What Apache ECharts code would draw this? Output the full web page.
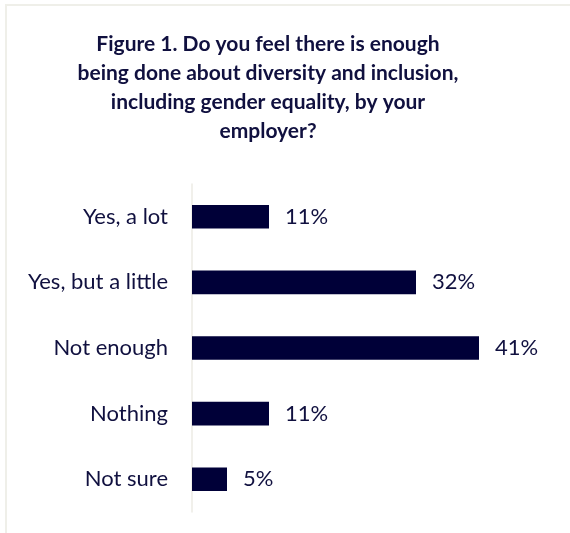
<!DOCTYPE html>
<html>
<head>
<meta charset="utf-8">
<style>
  html, body { margin: 0; padding: 0; background: #ffffff; }
  #chart { width: 570px; height: 533px; }
</style>
<script src="https://cdn.jsdelivr.net/npm/echarts@6/dist/echarts.min.js"></script>
</head>
<body>
<div id="chart"></div>
<script>
// Survey answers, top to bottom
const categories = ['Yes, a lot', 'Yes, but a little', 'Not enough', 'Nothing', 'Not sure'];
// Share of respondents (%)
const values = [11, 32, 41, 11, 5];

const titleText = 'Figure 1. Do you feel there is enough\nbeing done about diversity and inclusion,\nincluding gender equality, by your\nemployer?';

const navy = '#000038';
const textColor = '#10103f';
const fontFamily = 'Lato, "Open Sans", sans-serif';

const chart = echarts.init(document.getElementById('chart'), null, { renderer: 'canvas' });

chart.setOption({
  animation: false,
  backgroundColor: '#ffffff',
  graphic: [{
    type: 'rect',
    shape: { x: 6, y: 5, width: 700, height: 700 },
    style: { fill: 'none', stroke: '#efefe9', lineWidth: 2 },
    silent: true
  }],
  title: {
    text: titleText,
    left: 263,
    top: 25,
    textAlign: 'center',
    textStyle: {
      fontFamily: fontFamily,
      fontSize: 21,
      fontWeight: 'bold',
      color: textColor,
      lineHeight: 29
    }
  },
  grid: {
    left: 192,
    width: 350,
    top: 184,
    height: 328,
    containLabel: false
  },
  xAxis: {
    type: 'value',
    min: 0,
    max: 50,
    show: false
  },
  yAxis: {
    type: 'category',
    data: categories,
    inverse: true,
    axisLine: { show: true, lineStyle: { color: '#ecebe5', width: 1.5 } },
    axisTick: { show: false },
    splitLine: { show: false },
    axisLabel: {
      margin: 24,
      fontFamily: fontFamily,
      fontSize: 22,
      color: textColor
    }
  },
  series: [{
    type: 'bar',
    data: values,
    barWidth: '36%',
    itemStyle: { color: navy },
    label: {
      show: true,
      position: 'right',
      distance: 16,
      formatter: '{c}%',
      fontFamily: fontFamily,
      fontSize: 22,
      color: textColor
    }
  }]
});
</script>
</body>
</html>
